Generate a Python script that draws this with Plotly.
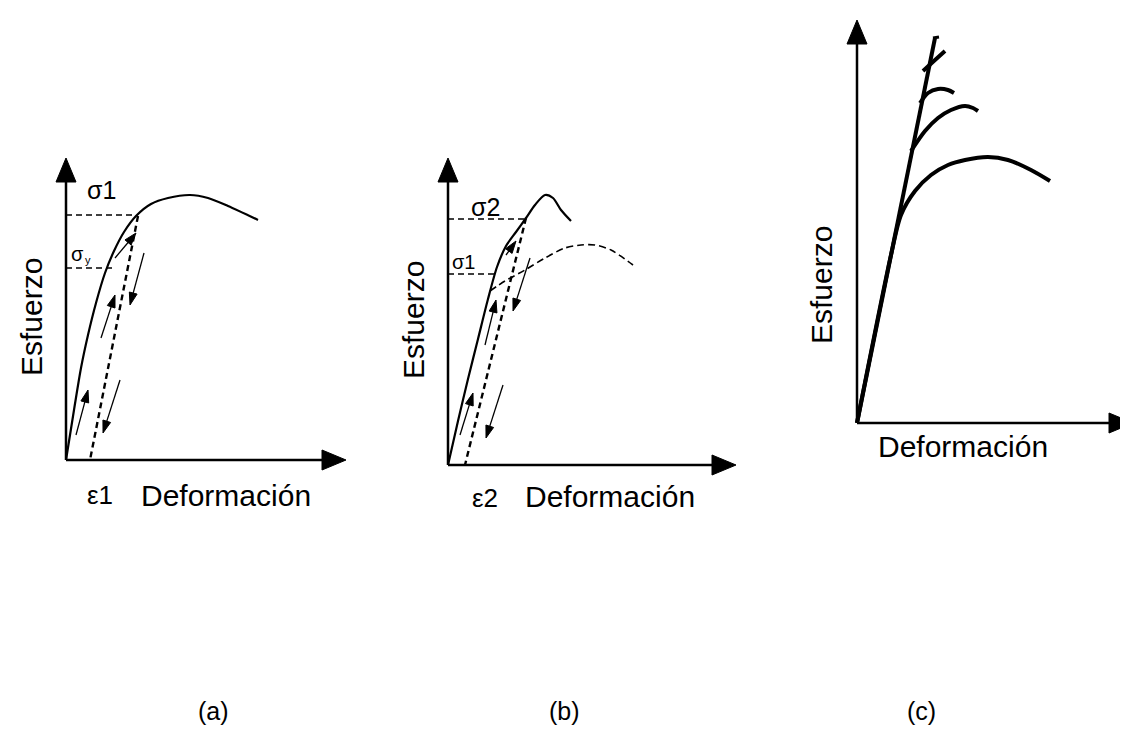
import plotly.graph_objects as go

W, H = 1128, 732
FONT = "Liberation Sans"

# ---------------- data (strain, stress) in schematic units ----------------
# Panel (a)
a_curve_x = [0, 8, 15, 22, 30, 39, 48, 58, 70, 85, 102, 124, 142, 162, 192]
a_curve_y = [0, 50, 92, 125, 157, 187, 209, 228, 244, 256, 262, 265, 262, 254, 240]
a_unload_x = [72, 24]
a_unload_y = [244, 0]
a_sigma1 = 245
a_sigma1_x = 70
a_sigmay = 192
a_sigmay_x = 49
a_arrows = [  # tail_x, tail_y, head_x, head_y
    (10, 25, 22, 70), (35, 122, 49, 165), (49, 202, 70, 227),
    (78, 207, 64, 155), (54, 80, 37, 27)]

# Panel (b)
b_curve_x = [0, 10, 20, 30, 40, 49, 58, 68, 78, 87, 97, 105, 113, 123]
b_curve_y = [0, 44, 86, 126, 166, 198, 219, 233, 247, 260, 270, 267, 255, 244]
b_old_x = [42, 57, 77, 97, 117, 133, 147, 163, 185]
b_old_y = [174, 184, 195, 207, 217, 220, 220, 215, 200]
b_unload_x = [78, 17]
b_unload_y = [247, 0]
b_sigma2 = 246
b_sigma2_x = 77
b_sigma1 = 191
b_sigma1_x = 48
b_arrows = [
    (12, 30, 25, 72), (37, 120, 48, 165), (58, 210, 68, 224),
    (82, 207, 65, 154), (55, 80, 38, 27)]

# Panel (c)
c_main_x = [0, 78]
c_main_y = [0, 385]
c_cap_x = [76, 82]
c_cap_y = [385, 386]
c_b1_x = [66, 78, 88]
c_b1_y = [352, 363, 372]
c_b2_x = [63, 71, 81, 91, 97]
c_b2_y = [320, 330, 334, 333, 330]
c_b3_x = [54, 68, 81, 94, 108, 116, 121]
c_b3_y = [272, 292, 305, 313, 317, 315, 312]
c_b4_x = [0, 34, 44, 58, 74, 91, 108, 131, 151, 174, 193]
c_b4_y = [0, 168, 208, 232, 248, 258, 263, 266, 263, 253, 242]

# ---------------- panel frames ----------------
panels = {
    "a": dict(left=0, right=360, ox=58, oy=452, xt=280, yt=302),
    "b": dict(left=365, right=770, ox=440, oy=457, xt=288, yt=307),
    "c": dict(left=775, right=1128, ox=849, oy=415, xt=276, yt=403),
}
axnames = {"a": ("x", "y"), "b": ("x2", "y2"), "c": ("x3", "y3")}

fig = go.Figure()
BLACK = "#000000"


def line(panel, xs, ys, width=2, dash="solid"):
    xa, ya = axnames[panel]
    fig.add_trace(go.Scatter(x=xs, y=ys, xaxis=xa, yaxis=ya, mode="lines",
                             line=dict(color=BLACK, width=width, dash=dash, shape="spline", smoothing=0.8),
                             hoverinfo="skip", showlegend=False))


def straight(panel, xs, ys, width=2, dash="solid"):
    xa, ya = axnames[panel]
    fig.add_trace(go.Scatter(x=xs, y=ys, xaxis=xa, yaxis=ya, mode="lines",
                             line=dict(color=BLACK, width=width, dash=dash),
                             hoverinfo="skip", showlegend=False))


def tri(panel, xs, ys):
    xa, ya = axnames[panel]
    fig.add_trace(go.Scatter(x=xs, y=ys, xaxis=xa, yaxis=ya, mode="lines", fill="toself",
                             fillcolor=BLACK, line=dict(color=BLACK, width=1),
                             hoverinfo="skip", showlegend=False))


def axes_arrows(panel):
    p = panels[panel]
    L, hw = 24, 10
    straight(panel, [0, 0], [0, p["yt"] - L + 2], width=2.5)
    straight(panel, [0, p["xt"] - L + 2], [0, 0], width=2.5)
    tri(panel, [-hw, hw, 0, -hw], [p["yt"] - L, p["yt"] - L, p["yt"], p["yt"] - L])
    tri(panel, [p["xt"] - L, p["xt"] - L, p["xt"], p["xt"] - L], [-hw, hw, 0, -hw])


def small_arrows(panel, arrows):
    xa, ya = axnames[panel]
    for tx, ty, hx, hy in arrows:
        fig.add_trace(go.Scatter(x=[tx, hx], y=[ty, hy], xaxis=xa, yaxis=ya, mode="lines+markers",
                                 line=dict(color=BLACK, width=1.3),
                                 marker=dict(symbol=["circle", "arrow"], size=[0, 13],
                                             angleref="previous", color=BLACK, opacity=1,
                                             line=dict(width=1, color=BLACK), standoff=0),
                                 hoverinfo="skip", showlegend=False))


def label(panel, x, y, text, size=30, angle=0):
    xa, ya = axnames[panel]
    fig.add_annotation(x=x, y=y, xref=xa, yref=ya, text=text, showarrow=False,
                       textangle=angle, font=dict(family=FONT, size=size, color=BLACK))


DASH = "6px,4px"

# Panel (a)
axes_arrows("a")
line("a", a_curve_x, a_curve_y, width=2.2)
straight("a", a_unload_x, a_unload_y, width=2.4, dash=DASH)
straight("a", [0, a_sigma1_x], [a_sigma1, a_sigma1], width=1.6, dash=DASH)
straight("a", [0, a_sigmay_x], [a_sigmay, a_sigmay], width=1.6, dash=DASH)
small_arrows("a", a_arrows)
label("a", 35, 270, "σ1", size=25)
label("a", 11, 206, "σ", size=20)
label("a", 22, 200, "y", size=11)
label("a", 34, -35, "ε1", size=26)
label("a", 160, -35, "Deformación")
label("a", -35, 143, "Esfuerzo", angle=-90)

# Panel (b)
axes_arrows("b")
line("b", b_curve_x, b_curve_y, width=2.2)
line("b", b_old_x, b_old_y, width=1.6, dash="7px,4px")
straight("b", b_unload_x, b_unload_y, width=2.4, dash=DASH)
straight("b", [0, b_sigma2_x], [b_sigma2, b_sigma2], width=1.6, dash=DASH)
straight("b", [0, b_sigma1_x], [b_sigma1, b_sigma1], width=1.6, dash=DASH)
small_arrows("b", b_arrows)
label("b", 37, 258, "σ2", size=25)
label("b", 15, 203, "σ1", size=20)
label("b", 37, -33, "ε2", size=26)
label("b", 162, -31, "Deformación")
label("b", -35, 145, "Esfuerzo", angle=-90)

# Panel (c)
axes_arrows("c")
straight("c", c_main_x, c_main_y, width=4)
straight("c", c_cap_x, c_cap_y, width=3)
line("c", c_b1_x, c_b1_y, width=4)
line("c", c_b2_x, c_b2_y, width=4)
line("c", c_b3_x, c_b3_y, width=4)
line("c", c_b4_x, c_b4_y, width=4)
label("c", 106, -23, "Deformación")
label("c", -36, 138, "Esfuerzo", angle=-90)

# panel captions
captions = [("(a)", 188), ("(b)", 556), ("(c)", 930)]
for txt, px in captions:
    fig.add_annotation(x=px / W, y=1 - 719 / H, xref="paper", yref="paper", text=txt,
                       showarrow=False, font=dict(family=FONT, size=25, color=BLACK))

# axes setup (1 unit = 1 px)
layout_axes = {}
for key, (xa, ya) in axnames.items():
    p = panels[key]
    xname = "xaxis" if xa == "x" else "xaxis" + xa[1:]
    yname = "yaxis" if ya == "y" else "yaxis" + ya[1:]
    layout_axes[xname] = dict(domain=[p["left"] / W, p["right"] / W],
                              range=[p["left"] - p["ox"], p["right"] - p["ox"]],
                              visible=False, fixedrange=True, anchor=ya)
    layout_axes[yname] = dict(domain=[0, 1], range=[-(H - p["oy"]), p["oy"]],
                              visible=False, fixedrange=True, anchor=xa)

fig.update_layout(width=W, height=H, margin=dict(l=0, r=0, t=0, b=0),
                  paper_bgcolor="white", plot_bgcolor="white", showlegend=False,
                  **layout_axes)

fig.write_html("out.html")
